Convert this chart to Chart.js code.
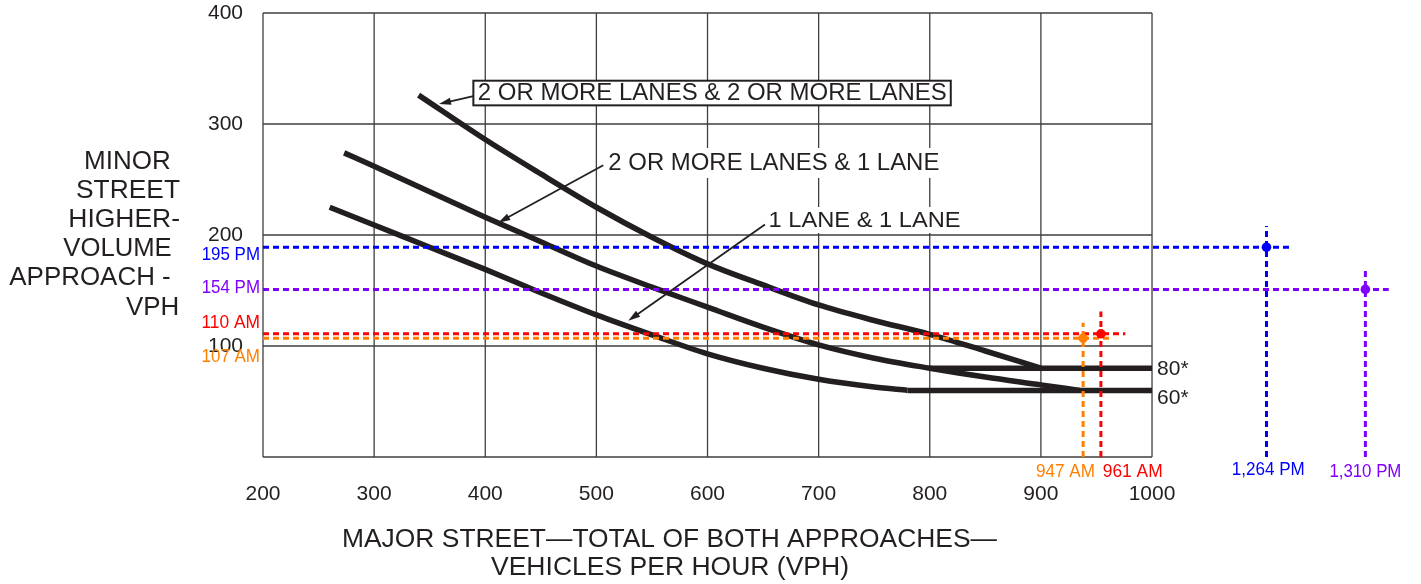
<!DOCTYPE html>
<html>
<head>
<meta charset="utf-8">
<script src="https://cdn.jsdelivr.net/npm/chart.js@4.4.0/dist/chart.umd.min.js"></script>
<style>
html,body{margin:0;padding:0;background:#fff;}
#wrap{width:1421px;height:584px;position:relative;}
</style>
</head>
<body>
<div id="wrap"><canvas id="c" width="1421" height="584"></canvas></div>
<script>
// ---- data ----
const xTicks = [200, 300, 400, 500, 600, 700, 800, 900, 1000];
const yTicks = [100, 200, 300, 400];

// 2 OR MORE LANES & 2 OR MORE LANES
const curve2p2pX = [340, 400, 450, 500, 550, 600, 650, 700, 750, 800, 850, 900];
const curve2p2pY = [326, 286, 255, 225, 198, 174, 155, 137, 123, 110.5, 95.5, 80];
// 2 OR MORE LANES & 1 LANE
const curve2p1X = [273, 300, 350, 400, 450, 500, 550, 600, 650, 700, 750, 800, 850, 900, 935];
const curve2p1Y = [274, 262, 239, 216, 194, 172, 153, 135, 117, 101, 89, 80, 72, 65, 60];
// 1 LANE & 1 LANE
const curve11X = [260, 300, 350, 400, 450, 500, 550, 600, 650, 700, 750, 780];
const curve11Y = [225, 209, 189, 169, 148, 128, 110, 93, 80, 70, 63, 60];
// lower thresholds
const floor80X = [800, 1000];
const floor80Y = [80, 80];
const floor60X = [780, 1000];
const floor60Y = [60, 60];
const floorLabels = ['80*', '60*'];

// observed volumes (orange, red, blue, purple)
const obsMajor = [938, 954, 1103, 1192];
const obsMinor = [107, 111, 189, 151];
const obsMajorText = ['947 AM', '961 AM', '1,264 PM', '1,310 PM'];
const obsMinorText = ['107 AM', '110 AM', '195 PM', '154 PM'];
const obsHLineEnd = [965, 976, 1126, 1213];
const obsVLineTop = [121, 131, 208, 169];

const curveLabels = ['2 OR MORE LANES & 2 OR MORE LANES', '2 OR MORE LANES & 1 LANE', '1 LANE & 1 LANE'];
const yTitleLines = ['MINOR', 'STREET', 'HIGHER-', 'VOLUME', 'APPROACH -', 'VPH'];
const xTitleLines = ['MAJOR STREET\u2014TOTAL OF BOTH APPROACHES\u2014', 'VEHICLES PER HOUR (VPH)'];

// ---- styles ----
const INK = '#231f20';
const GRID = '#3f3f3f';
const FONT = '"Liberation Sans", Arial, Helvetica, sans-serif';
const obsColors = ['#ff8000', '#ff0000', '#0000ff', '#8000ff'];
const leftLabelDy = [18.5, -10.8, 7.8, -1.1];
const leftLabelW = [58.5, 58.5, 58.3, 58.3];
const bottomLabelDx = [-17.6, 31.8, 1.8, 0];
const bottomLabelY = [471.7, 471.7, 470, 472];
const bottomLabelW = [59, 60, 73, 72];

function pts(xs, ys) { return xs.map((x, i) => ({x: x, y: ys[i]})); }

function drawText(ctx, s, x, y, size, color, align, width) {
  ctx.save();
  ctx.font = size + 'px ' + FONT;
  const m = ctx.measureText(s).width;
  const sx = width ? width / m : 1;
  ctx.translate(x, y);
  ctx.scale(sx, 1);
  ctx.textAlign = align;
  ctx.textBaseline = 'middle';
  ctx.fillStyle = color;
  ctx.fillText(s, 0, 0);
  ctx.restore();
}

function arrow(ctx, x1, y1, x2, y2) {
  const a = Math.atan2(y2 - y1, x2 - x1);
  const L = 12, W = 3.6;
  ctx.save();
  ctx.strokeStyle = INK; ctx.fillStyle = INK; ctx.lineWidth = 1.8;
  ctx.beginPath();
  ctx.moveTo(x1, y1);
  ctx.lineTo(x2 - Math.cos(a) * L * 0.8, y2 - Math.sin(a) * L * 0.8);
  ctx.stroke();
  ctx.beginPath();
  ctx.moveTo(x2, y2);
  ctx.lineTo(x2 - Math.cos(a) * L - Math.sin(a) * W, y2 - Math.sin(a) * L + Math.cos(a) * W);
  ctx.lineTo(x2 - Math.cos(a) * L + Math.sin(a) * W, y2 - Math.sin(a) * L - Math.cos(a) * W);
  ctx.closePath();
  ctx.fill();
  ctx.restore();
}

// annotation layout (in data units)
const notes = [
  {cx: 604.3, cy: 327.7, size: 24, w: 469, box: [389.3, 339, 818.9, 316.8], border: true,
   from: [389.3, 325.2], to: [358.4, 318.0]},
  {cx: 659.7, cy: 264.1, size: 23, w: 331, box: [506, 278.4, 812.8, 251.4], border: false,
   from: [506.2, 262.8], to: [411.7, 211.1]},
  {cx: 741.3, cy: 213.1, size: 22, w: 192, box: [649, 225.2, 832.6, 201.8], border: false,
   from: [651.7, 209.5], to: [528.7, 122.8]}
];

const decor = {
  id: 'decor',
  beforeDatasetsDraw(chart) {
    const ctx = chart.ctx, x = chart.scales.x, y = chart.scales.y;
    const X = v => x.getPixelForValue(v), Y = v => y.getPixelForValue(v);
    ctx.save();
    ctx.strokeStyle = GRID; ctx.lineWidth = 1.3;
    ctx.beginPath();
    const x0 = X(xTicks[0]), x1 = X(xTicks[xTicks.length - 1]);
    const yb = Y(0), yt = Y(yTicks[yTicks.length - 1]);
    xTicks.forEach(v => { ctx.moveTo(X(v), yb); ctx.lineTo(X(v), yt); });
    [0].concat(yTicks).forEach(v => { ctx.moveTo(x0, Y(v)); ctx.lineTo(x1, Y(v)); });
    ctx.stroke();
    notes.forEach((n, i) => {
      const bx0 = X(n.box[0]), by0 = Y(n.box[1]), bx1 = X(n.box[2]), by1 = Y(n.box[3]);
      ctx.fillStyle = '#ffffff';
      ctx.fillRect(bx0, by0, bx1 - bx0, by1 - by0);
      if (n.border) {
        ctx.strokeStyle = INK; ctx.lineWidth = 2;
        ctx.strokeRect(bx0, by0, bx1 - bx0, by1 - by0);
      }
      drawText(ctx, curveLabels[i], X(n.cx), Y(n.cy), n.size, INK, 'center', n.w);
    });
    ctx.restore();
  },
  afterDatasetsDraw(chart) {
    const ctx = chart.ctx, x = chart.scales.x, y = chart.scales.y;
    const X = v => x.getPixelForValue(v), Y = v => y.getPixelForValue(v);
    notes.forEach(n => arrow(ctx, X(n.from[0]), Y(n.from[1]), X(n.to[0]), Y(n.to[1])));
    drawText(ctx, floorLabels[0], X(1000) + 5, Y(floor80Y[1]) + 1, 21, INK, 'left');
    drawText(ctx, floorLabels[1], X(1000) + 5, Y(floor60Y[1]) + 7.6, 21, INK, 'left');
    obsMinor.forEach((v, i) => {
      drawText(ctx, obsMinorText[i], 260, Y(v) + leftLabelDy[i], 18, obsColors[i], 'right', leftLabelW[i]);
      drawText(ctx, obsMajorText[i], X(obsMajor[i]) + bottomLabelDx[i], bottomLabelY[i], 18, obsColors[i], 'center', bottomLabelW[i]);
    });
    const yl = [84, 76, 68.3, 63.3, 9.3, 126];
    const yc = [162, 191, 220, 249, 278, 308];
    const yw = [86.7, 104, 111.7, 108.4, 161.4, 53.3];
    yTitleLines.forEach((s, i) => drawText(ctx, s, yl[i], yc[i], 26, INK, 'left', yw[i]));
    drawText(ctx, xTitleLines[0], 669.5, 540, 26, INK, 'center', 655);
    drawText(ctx, xTitleLines[1], 670, 568, 26, INK, 'center', 358);
  }
};

const datasets = [];
obsMajor.forEach((mx, i) => {
  datasets.push({data: [{x: mx, y: obsMinor[i]}], showLine: false, pointRadius: 4.8,
    pointBackgroundColor: obsColors[i], pointBorderWidth: 0, borderColor: obsColors[i]});
});
obsMajor.forEach((mx, i) => {
  datasets.push({data: [{x: 200, y: obsMinor[i]}, {x: obsHLineEnd[i], y: obsMinor[i]}], showLine: true,
    pointRadius: 0, borderColor: obsColors[i], borderWidth: 3, borderDash: [6, 4]});
  datasets.push({data: [{x: mx, y: 0}, {x: mx, y: obsVLineTop[i]}], showLine: true,
    pointRadius: 0, borderColor: obsColors[i], borderWidth: 3, borderDash: [6, 4]});
});
const curveStyle = {showLine: true, pointRadius: 0, borderColor: INK, borderWidth: 5.5,
  cubicInterpolationMode: 'monotone', borderCapStyle: 'butt', borderJoinStyle: 'round'};
datasets.push(Object.assign({data: pts(curve2p2pX, curve2p2pY)}, curveStyle));
datasets.push(Object.assign({data: pts(curve2p1X, curve2p1Y)}, curveStyle));
datasets.push(Object.assign({data: pts(curve11X, curve11Y)}, curveStyle));
datasets.push(Object.assign({data: pts(floor80X, floor80Y)}, curveStyle));
datasets.push(Object.assign({data: pts(floor60X, floor60Y)}, curveStyle));

new Chart(document.getElementById('c'), {
  type: 'scatter',
  data: {datasets: datasets},
  options: {
    responsive: false,
    animation: false,
    devicePixelRatio: 1,
    layout: {padding: {top: 13, right: 24.5, bottom: 0, left: 0}},
    plugins: {legend: {display: false}, tooltip: {enabled: false}},
    scales: {
      x: {
        type: 'linear', min: 200, max: 1220,
        afterBuildTicks: s => { s.ticks = xTicks.map(v => ({value: v})); },
        afterFit: s => { s.height = 127; s.paddingLeft = 0; s.paddingRight = 0; },
        grid: {display: false, drawTicks: false},
        border: {display: false},
        ticks: {color: INK, font: {family: FONT, size: 21}, padding: 25, maxRotation: 0, autoSkip: false,
          callback: v => String(v)}
      },
      y: {
        type: 'linear', min: 0, max: 400,
        afterBuildTicks: s => { s.ticks = yTicks.map(v => ({value: v})); },
        afterFit: s => { s.width = 263; s.paddingTop = 0; s.paddingBottom = 0; },
        grid: {display: false, drawTicks: false},
        border: {display: false},
        ticks: {color: INK, font: {family: FONT, size: 21}, padding: 20, callback: v => String(v)}
      }
    }
  },
  plugins: [decor]
});
</script>
</body>
</html>
